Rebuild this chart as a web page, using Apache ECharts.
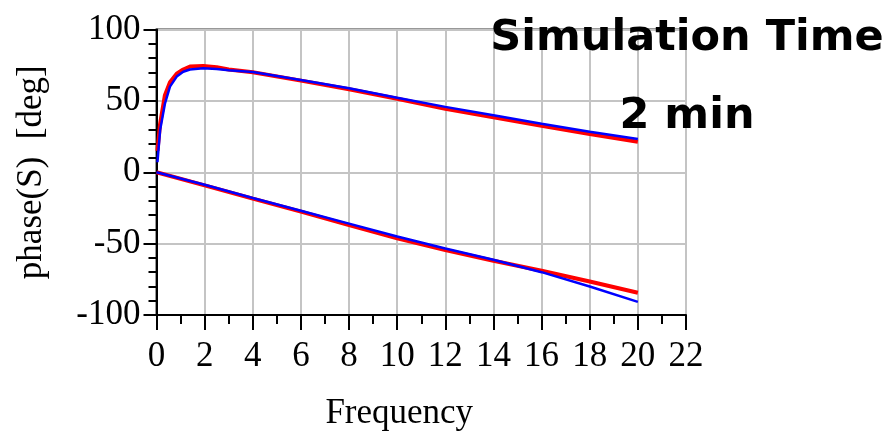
<!DOCTYPE html>
<html>
<head>
<meta charset="utf-8">
<script src="https://cdn.jsdelivr.net/npm/echarts@6/dist/echarts.min.js"></script>
<style>
  html, body { margin: 0; padding: 0; background: #ffffff; }
  #chart { width: 892px; height: 432px; }
</style>
</head>
<body>
<div id="chart"></div>
<script>
// Phase response vs. frequency: upper and lower branches, two solutions each
const freqUpper = [0.04, 0.15, 0.35, 0.56, 0.84, 1.11, 1.39, 1.94, 2.5, 3, 4, 6, 8, 10, 12, 14, 16, 18, 20];
const redUpper  = [15, 34, 54, 63, 69, 72, 74, 74.4, 73.5, 72, 70, 64.2, 58.2, 51.5, 44.5, 38.5, 32.5, 26.8, 21.4];
const blueUpper = [7, 29.5, 48, 60, 67, 70.4, 72, 72.8, 72.3, 71.5, 70.3, 64.6, 58.8, 52.2, 45.8, 40, 34, 28.4, 23.3];

const freqLower = [0, 2, 4, 6, 8, 10, 12, 14, 16, 18, 20];
const redLower  = [0, -9.2, -18.5, -27.6, -37, -46.3, -54.5, -62, -69, -76.5, -84.4];
const blueLower = [0, -8.8, -18, -27, -36, -45, -53.4, -61.3, -70, -80, -90.8];

const xTicks = [0, 2, 4, 6, 8, 10, 12, 14, 16, 18, 20, 22];
const yTicks = [-100, -50, 0, 50, 100];

const pairs = (xs, ys) => xs.map((x, i) => [x, ys[i]]);

const serif = '"Liberation Serif", "Times New Roman", serif';
const boldSans = 'bold 43px "DejaVu Sans", Verdana, sans-serif';

const chart = echarts.init(document.getElementById('chart'), null, { renderer: 'canvas' });

const lineSeries = (data, color, width) => ({
  type: 'line',
  data: data,
  showSymbol: false,
  symbol: 'none',
  lineStyle: { color: color, width: width },
  itemStyle: { color: color },
  emphasis: { disabled: true },
  z: color === '#0000ff' ? 3 : 2
});

chart.setOption({
  animation: false,
  backgroundColor: '#ffffff',
  grid: {
    left: 156.5, right: 206, top: 29.5, bottom: 117,
    outerBoundsMode: 'none',
    containLabel: false,
    show: true, borderColor: '#333333', borderWidth: 2, backgroundColor: 'transparent'
  },
  xAxis: {
    type: 'value',
    min: xTicks[0], max: xTicks[xTicks.length - 1], interval: 2,
    name: 'Frequency',
    nameLocation: 'middle',
    nameGap: 81,
    nameTextStyle: { fontFamily: serif, fontSize: 35, color: '#000', padding: [0, 44, 0, 0] },
    axisLine: { show: true, onZero: false, lineStyle: { color: '#000', width: 2 } },
    axisTick: { show: true, inside: false, length: 15, lineStyle: { color: '#000', width: 2 } },
    minorTick: { show: true, splitNumber: 2, length: 9, lineStyle: { color: '#000', width: 2 } },
    axisLabel: { fontFamily: serif, fontSize: 35, color: '#000', margin: 24, hideOverlap: false, interval: 0 },
    splitLine: { show: true, lineStyle: { color: '#c4c4c4', width: 2 } }
  },
  yAxis: {
    type: 'value',
    min: yTicks[0], max: yTicks[yTicks.length - 1], interval: 50,
    name: 'phase(S)  [deg]',
    nameLocation: 'middle',
    nameGap: 107,
    nameTextStyle: { fontFamily: serif, fontSize: 35, color: '#000' },
    axisLine: { show: true, lineStyle: { color: '#000', width: 2 } },
    axisTick: { show: true, inside: false, length: 13, lineStyle: { color: '#000', width: 2 } },
    minorTick: { show: true, splitNumber: 5, length: 8, lineStyle: { color: '#000', width: 2 } },
    axisLabel: { fontFamily: serif, fontSize: 35, color: '#000', margin: 16 },
    splitLine: { show: true, lineStyle: { color: '#c4c4c4', width: 2 } }
  },
  series: [
    lineSeries(pairs(freqUpper, redUpper), '#ff0000', 4),
    lineSeries(pairs(freqUpper, blueUpper), '#0000ff', 2.5),
    lineSeries(pairs(freqLower, redLower), '#ff0000', 4),
    lineSeries(pairs(freqLower, blueLower), '#0000ff', 2.5)
  ],
  graphic: [
    {
      type: 'text', x: 687, y: 39, z: 10,
      style: { text: 'Simulation Time', font: boldSans,
               fill: '#000', textAlign: 'center', textVerticalAlign: 'middle' }
    },
    {
      type: 'text', x: 687, y: 117, z: 10,
      style: { text: '2 min', font: boldSans,
               fill: '#000', textAlign: 'center', textVerticalAlign: 'middle' }
    }
  ]
});
</script>
</body>
</html>
